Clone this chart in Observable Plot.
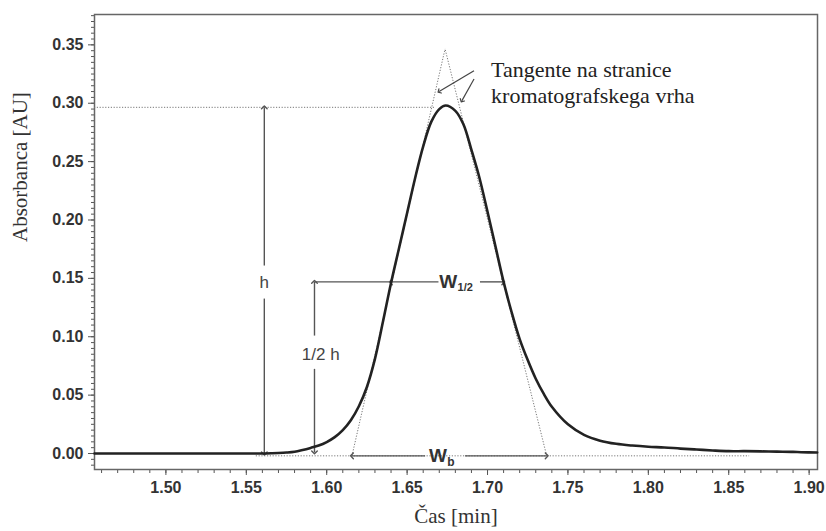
<!DOCTYPE html>
<html>
<head>
<meta charset="utf-8">
<script src="https://cdn.jsdelivr.net/npm/d3@7"></script>
<script src="https://cdn.jsdelivr.net/npm/@observablehq/plot@0.6"></script>
<style>
  html, body { margin: 0; padding: 0; background: #fff; }
  #chart svg { display: block; }
</style>
</head>
<body>
<div id="chart"></div>
<script>
// ---- Chromatogram trace (time in min, absorbance in AU) ----
const times = [1.4556, 1.50, 1.55, 1.56, 1.566, 1.57, 1.575, 1.58, 1.585, 1.59, 1.595,
  1.60, 1.605, 1.61, 1.615, 1.62, 1.625, 1.63, 1.635, 1.64, 1.645, 1.65, 1.655,
  1.66, 1.665, 1.67, 1.674, 1.68, 1.685, 1.69, 1.695, 1.70, 1.705, 1.71, 1.715,
  1.72, 1.725, 1.73, 1.735, 1.74, 1.75, 1.76, 1.77, 1.78, 1.79, 1.80, 1.81,
  1.82, 1.83, 1.84, 1.85, 1.86, 1.87, 1.88, 1.89, 1.895, 1.905];
const absorbance = [0, 0, 0, 0, 0.0002, 0.0004, 0.0008, 0.0015, 0.003, 0.0048, 0.0068,
  0.0098, 0.014, 0.020, 0.0285, 0.0405, 0.057, 0.081, 0.113, 0.146, 0.176, 0.206, 0.236,
  0.263, 0.284, 0.295, 0.298, 0.2935, 0.282, 0.260, 0.236, 0.207, 0.177, 0.147, 0.121,
  0.098, 0.080, 0.064, 0.051, 0.040, 0.025, 0.016, 0.011, 0.0083, 0.0068, 0.0058, 0.0052,
  0.0042, 0.0034, 0.0026, 0.002, 0.002, 0.0018, 0.0016, 0.0014, 0.0011, 0.0008];

// ---- Axis ticks ----
const xMajorTicks = [1.50, 1.55, 1.60, 1.65, 1.70, 1.75, 1.80, 1.85, 1.90];
const xMinorTicks = d3.range(146, 191).map(d => d / 100);
const yMajorTicks = [0.00, 0.05, 0.10, 0.15, 0.20, 0.25, 0.30, 0.35];
const yMinorTicks = d3.range(-2, 76).map(d => d / 200);

// ---- Construction values ----
const peakTime = 1.6736;
const peakHeight = 0.2965;
const halfHeight = 0.147;
const apexHeight = 0.3465;            // intersection of the tangents
const tangentBase = [1.6157, 1.7368]; // tangents meet the baseline
const baselineLevel = -0.002;
const baselineExtent = [1.5562, 1.863];
const halfWidthEdges = [1.6399, 1.7098];
const hArrowTime = 1.5612;
const halfHArrowTime = 1.5924;
const tangentArrowTails = [[1.6916, 0.3278], [1.6916, 0.3208]];
const tangentArrowHeads = [[1.6699, 0.310], [1.6840, 0.302]];

const labels = {
  x: "Čas [min]",
  y: "Absorbanca [AU]",
  tangent: "Tangente na stranice\nkromatografskega vrha",
  h: "h",
  halfH: "1/2 h",
  w: "W",
  wHalfSub: "1/2",
  wBaseSub: "b"
};

const curve = times.map((t, i) => ({t, a: absorbance[i]}));

const serif = "'Liberation Serif', 'Times New Roman', serif";
const sans = "'Liberation Sans', Arial, sans-serif";
const dotted = {stroke: "#777", strokeWidth: 1, strokeDasharray: "1.2,1.6"};
const guide = {stroke: "#555", strokeWidth: 1.4};

const plot = Plot.plot({
  width: 826,
  height: 531,
  marginLeft: 94,
  marginRight: 9,
  marginTop: 14,
  marginBottom: 62,
  style: {background: "#fff", color: "#333", fontFamily: sans},
  x: {domain: [1.4556, 1.9052]},
  y: {domain: [-0.0137, 0.376]},
  marks: [
    // axes
    Plot.axisY(yMinorTicks, {tickSize: 3, tickFormat: () => "", label: null, stroke: "#555"}),
    Plot.axisY(yMajorTicks, {tickSize: 6, tickPadding: 5, tickFormat: d3.format(".2f"), label: null,
      fontSize: 16, fontWeight: "bold", fill: "#333", stroke: "#555"}),
    Plot.axisX(xMinorTicks, {tickSize: 4, tickFormat: () => "", label: null, stroke: "#555"}),
    Plot.axisX(xMajorTicks, {tickSize: 6, tickPadding: 6, tickFormat: d3.format(".2f"), label: null,
      fontSize: 16, fontWeight: "bold", fill: "#333", stroke: "#555"}),
    Plot.frame({stroke: "#666", strokeWidth: 1.5}),

    // axis titles
    Plot.text([labels.y], {frameAnchor: "left", text: d => d, rotate: -90, dx: -74,
      fontFamily: serif, fontSize: 21, fill: "#333"}),
    Plot.text([labels.x], {frameAnchor: "bottom", text: d => d, dy: 53,
      fontFamily: serif, fontSize: 21, fill: "#333"}),

    // dotted construction lines
    Plot.ruleY([peakHeight], {x1: 1.4556, x2: 1.6675, ...dotted}),
    Plot.ruleY([baselineLevel], {x1: baselineExtent[0], x2: baselineExtent[1], ...dotted}),
    Plot.link([0, 1], {x1: i => tangentBase[i], y1: baselineLevel, x2: peakTime, y2: apexHeight, ...dotted}),

    // h arrow
    Plot.link([0], {x1: hArrowTime, x2: hArrowTime, y1: 0.1327, y2: 0, markerEnd: "arrow", ...guide}),
    Plot.link([0], {x1: hArrowTime, x2: hArrowTime, y1: 0.161, y2: peakHeight, markerEnd: "arrow", ...guide}),
    Plot.text([labels.h], {x: hArrowTime, y: 0.1465, text: d => d, fontSize: 17, fill: "#444"}),

    // 1/2 h arrow
    Plot.link([0], {x1: halfHArrowTime, x2: halfHArrowTime, y1: 0.0725, y2: 0.001, markerEnd: "arrow", ...guide}),
    Plot.link([0], {x1: halfHArrowTime, x2: halfHArrowTime, y1: 0.101, y2: halfHeight, markerEnd: "arrow", ...guide}),
    Plot.text([labels.halfH], {x: 1.5963, y: 0.0845, text: d => d, fontSize: 17, fill: "#444"}),

    // W1/2
    Plot.link([0], {x1: halfHArrowTime, x2: halfWidthEdges[0], y1: halfHeight, y2: halfHeight, ...guide}),
    Plot.link([0], {x1: 1.6695, x2: halfWidthEdges[0], y1: halfHeight, y2: halfHeight, markerEnd: "arrow", ...guide}),
    Plot.link([0], {x1: 1.6953, x2: halfWidthEdges[1], y1: halfHeight, y2: halfHeight, markerEnd: "arrow", ...guide}),
    Plot.text([labels.w], {x: 1.6812, y: halfHeight, text: d => d, textAnchor: "end",
      fontSize: 19, fontWeight: "bold", fill: "#333"}),
    Plot.text([labels.wHalfSub], {x: 1.6814, y: halfHeight, dy: 6, text: d => d, textAnchor: "start",
      fontSize: 11, fontWeight: "bold", fill: "#333"}),

    // Wb
    Plot.link([0], {x1: 1.6612, x2: tangentBase[0], y1: baselineLevel, y2: baselineLevel, markerEnd: "arrow", ...guide}),
    Plot.link([0], {x1: 1.6860, x2: tangentBase[1], y1: baselineLevel, y2: baselineLevel, markerEnd: "arrow", ...guide}),
    Plot.text([labels.w], {x: 1.6748, y: baselineLevel, text: d => d, textAnchor: "end",
      fontSize: 19, fontWeight: "bold", fill: "#333"}),
    Plot.text([labels.wBaseSub], {x: 1.6750, y: baselineLevel, dy: 6, text: d => d, textAnchor: "start",
      fontSize: 12, fontWeight: "bold", fill: "#333"}),

    // tangent annotation
    Plot.link([0, 1], {x1: i => tangentArrowTails[i][0], y1: i => tangentArrowTails[i][1],
      x2: i => tangentArrowHeads[i][0], y2: i => tangentArrowHeads[i][1], markerEnd: "arrow",
      stroke: "#444", strokeWidth: 1.2}),
    Plot.text([labels.tangent], {x: 1.7022, y: 0.3385, text: d => d, textAnchor: "start", lineAnchor: "top",
      lineHeight: 1.18, fontFamily: serif, fontSize: 22, fill: "#222"}),

    // the chromatogram
    Plot.line(curve, {x: "t", y: "a", stroke: "#222", strokeWidth: 2.6, curve: "catmull-rom"})
  ]
});

document.getElementById("chart").appendChild(plot);
</script>
</body>
</html>
